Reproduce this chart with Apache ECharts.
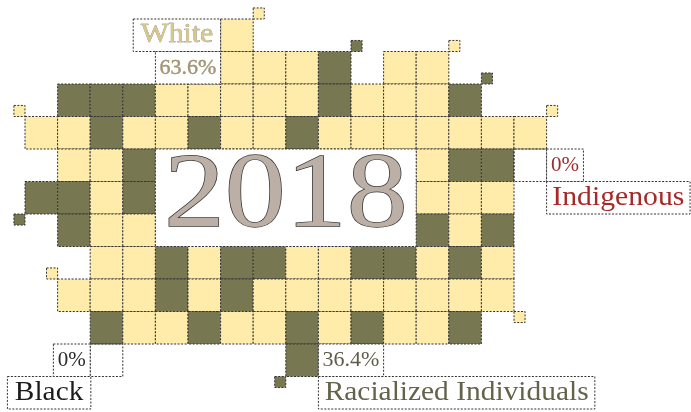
<!DOCTYPE html>
<html>
<head>
<meta charset="utf-8">
<script src="https://cdn.jsdelivr.net/npm/echarts@6/dist/echarts.min.js"></script>
<style>
html,body{margin:0;padding:0;background:#ffffff;}
#c{width:691px;height:412px;}
</style>
</head>
<body>
<div id="c"></div>
<script>
// ---------------- data ----------------
const year = '2018';
const categories = ['White', 'Racialized Individuals', 'Indigenous', 'Black'];
const percents = [63.6, 36.4, 0, 0];
const cellCodes = ['W', 'R'];          // W = White, R = Racialized Individuals
// waffle layout: one string per row, one char per column ('.' = no cell)
const gridRows = [
  '......W..........',
  '......WWWR.WW....',
  '.RRRWWWWWRWWWR...',
  'WWRWWRWWRWWWWWWW.',
  '.WWR........WRR..',
  'RRWR........WWW..',
  '.RWW........RWR..',
  '..WWRWRRWWRRWRW..',
  '.WWWRWRWWWWWWWW..',
  '..RWWRWWRWRWWR...',
  '........R........'
];
// small accent squares: [gridX, gridY, dirX, dirY, code]
const accentSquares = [
  [7, 0, 1, -1, 'W'], [10, 1, 1, -1, 'R'], [13, 1, 1, -1, 'W'], [14, 2, 1, -1, 'R'],
  [0, 3, -1, -1, 'W'], [16, 3, 1, -1, 'W'], [0, 6, -1, 1, 'R'], [1, 8, -1, -1, 'W'],
  [8, 11, -1, 1, 'R'], [15, 9, 1, 1, 'W']
];
// empty outlined cells next to the 0% labels
const emptyCells = [[15, 4], [2, 10]];

// ---------------- styles / layout ----------------
const FILL = { W: '#FFEBAA', R: '#777752' };
const DASH = { stroke: '#333333', lineWidth: 1, lineDash: [2, 1.5] };
const SERIF = 'Liberation Serif';
const labelSpecs = [
  { cat: 0, nameBox: [3.32, 0, 6, 1], pctBox: [4, 1, 6, 2],
    nameFill: '#D6C78C', nameStroke: '#6a6450', nameSize: 27, nameScale: 1.1,
    pctFill: '#A39670', pctStroke: '#6a6450', pctSize: 22 },
  { cat: 2, nameBox: [16, 5, 20.4, 6], pctBox: [16, 4, 17.13, 5],
    nameFill: '#A82828', nameStroke: null, nameSize: 27, nameScale: 1.1,
    pctFill: '#9E2C2C', pctStroke: null, pctSize: 21 },
  { cat: 3, nameBox: [-0.54, 11, 2.02, 12], pctBox: [0.87, 10, 2, 11],
    nameFill: '#1c1c1c', nameStroke: null, nameSize: 28, nameScale: 1.05,
    pctFill: '#2a2a2a', pctStroke: null, pctSize: 21 },
  { cat: 1, nameBox: [9, 11, 17.48, 12], pctBox: [9, 10, 11, 11],
    nameFill: '#63634A', nameStroke: null, nameSize: 27, nameScale: 1.09,
    pctFill: '#5E5E48', pctStroke: null, pctSize: 22 }
];
const yearBox = [4, 4, 12, 7];

// ---------------- build ----------------
const cellData = [];
gridRows.forEach(function (row, r) {
  for (let c = 0; c < row.length; c++) {
    const ch = row[c];
    if (ch !== '.') cellData.push([c, r, cellCodes.indexOf(ch)]);
  }
});

function rectOf(api, x0, y0, x1, y1) {
  const a = api.coord([x0, y0]), b = api.coord([x1, y1]);
  return { x: Math.min(a[0], b[0]), y: Math.min(a[1], b[1]),
           width: Math.abs(b[0] - a[0]), height: Math.abs(b[1] - a[1]) };
}
function boxStyle(fill) {
  return Object.assign({ fill: fill }, DASH);
}
function textEl(api, box, text, size, fill, stroke, scale, lw) {
  const c = api.coord([(box[0] + box[2]) / 2, (box[1] + box[3]) / 2]);
  const st = { text: text, x: 0, y: 0, fontFamily: SERIF, fontSize: size,
    fontWeight: 'normal', fill: fill, textAlign: 'center', textVerticalAlign: 'middle',
    align: 'center', verticalAlign: 'middle' };
  if (stroke) { st.stroke = stroke; st.lineWidth = lw; }
  return { type: 'text', x: c[0], y: c[1], scaleX: scale || 1, style: st };
}

const option = {
  animation: false,
  backgroundColor: '#ffffff',
  grid: { left: 25, top: 19, width: 652, height: 390 },
  xAxis: { type: 'value', min: 0, max: 20, show: false },
  yAxis: { type: 'value', min: 0, max: 12, inverse: true, show: false },
  series: [
    {
      type: 'custom', name: 'cells', data: cellData,
      encode: { x: 0, y: 1 },
      renderItem: function (params, api) {
        const c = api.value(0), r = api.value(1), k = api.value(2);
        return { type: 'rect', shape: rectOf(api, c, r, c + 1, r + 1),
                 style: boxStyle(FILL[cellCodes[k]]) };
      }
    },
    {
      type: 'custom', name: 'accents', data: accentSquares.map(function (a) {
        return [a[0], a[1], a[2], a[3], cellCodes.indexOf(a[4])];
      }),
      encode: { x: 0, y: 1 },
      renderItem: function (params, api) {
        const gx = api.value(0), gy = api.value(1), dx = api.value(2), dy = api.value(3);
        const k = api.value(4), s = 0.34;
        return { type: 'rect', shape: rectOf(api, gx, gy, gx + dx * s, gy + dy * s),
                 style: boxStyle(FILL[cellCodes[k]]) };
      }
    },
    {
      type: 'custom', name: 'empty', data: emptyCells,
      encode: { x: 0, y: 1 },
      renderItem: function (params, api) {
        const c = api.value(0), r = api.value(1);
        return { type: 'rect', shape: rectOf(api, c, r, c + 1, r + 1),
                 style: boxStyle('rgba(0,0,0,0)') };
      }
    },
    {
      type: 'custom', name: 'labels', data: labelSpecs.map(function (s, i) { return [i, 0]; }),
      encode: { x: 0, y: 1 },
      renderItem: function (params, api) {
        const s = labelSpecs[params.dataIndex];
        const nb = s.nameBox, pb = s.pctBox;
        return { type: 'group', children: [
          { type: 'rect', shape: rectOf(api, nb[0], nb[1], nb[2], nb[3]), style: boxStyle('#ffffff') },
          { type: 'rect', shape: rectOf(api, pb[0], pb[1], pb[2], pb[3]), style: boxStyle('#ffffff') },
          textEl(api, nb, categories[s.cat], s.nameSize, s.nameFill, s.nameStroke, s.nameScale, 0.4),
          textEl(api, pb, percents[s.cat] + '%', s.pctSize, s.pctFill, s.pctStroke, 1, 0.3)
        ] };
      }
    },
    {
      type: 'custom', name: 'year', data: [[0, 0]],
      encode: { x: 0, y: 1 },
      renderItem: function (params, api) {
        return { type: 'group', children: [
          { type: 'rect', shape: rectOf(api, yearBox[0], yearBox[1], yearBox[2], yearBox[3]),
            style: boxStyle('#ffffff') },
          textEl(api, yearBox, year, 106, '#BCB0A6', '#3a3a3a', 1.15, 1.4)
        ] };
      }
    }
  ]
};
const chart = echarts.init(document.getElementById('c'));
chart.setOption(option);
</script>
</body>
</html>
